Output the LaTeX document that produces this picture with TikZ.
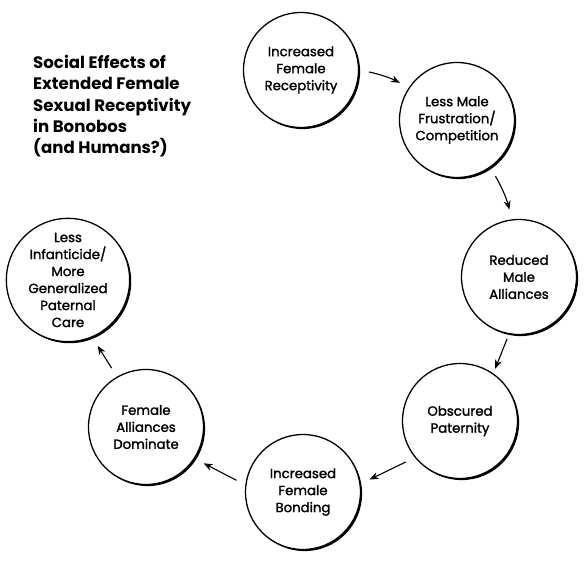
\documentclass[tikz,border=0pt]{standalone}
\usepackage{fontspec}
\setmainfont{Poppins}
\newfontfamily\stagefont{Poppins}[FakeBold=1.6]
\usetikzlibrary{arrows.meta,shadows}

\begin{document}
\begin{tikzpicture}[x=1pt,y=-1pt,
    stage/.style={circle,draw,line width=1.3pt,fill=white,minimum size=115pt,
      inner sep=0pt,align=center,font=\stagefont\fontsize{13.3}{17}\selectfont,
      drop shadow={shadow xshift=1.6pt,shadow yshift=-1.6pt,fill=black,opacity=1}},
    link/.style={-{Stealth[length=9pt,width=7pt]},line width=1.1pt,
      shorten <=10pt,shorten >=10pt}]
  \useasboundingbox (0,0) rectangle (586,564);
  \node[anchor=north west,align=left,inner sep=0pt,font=\bfseries\fontsize{16.6}{21.3}\selectfont]
    (title) at (33,55) {Social Effects of\\Extended Female\\Sexual Receptivity\\in Bonobos\\(and Humans?)};
  \node[stage] (receptivity) at (301,70) {Increased\\Female\\Receptivity};
  \node[stage] (frustration) at (457,120) {Less Male\\Frustration/\\Competition};
  \node[stage] (malealliances) at (519,277) {Reduced\\Male\\Alliances};
  \node[stage] (paternity) at (460,421) {Obscured\\Paternity};
  \node[stage] (bonding) at (303,492) {Increased\\Female\\Bonding};
  \node[stage] (femalealliances) at (146,427) {Female\\Alliances\\Dominate};
  \node[stage] (infanticide) at (68,280) {Less\\Infanticide/\\More\\Generalized\\Paternal\\Care};
  \draw[link] (receptivity.0) to[bend left=8] (frustration.146);
  \draw[link] (frustration.-55) to[bend left=8] (malealliances.97);
  \draw[link,shorten <=5pt,shorten >=5pt] (malealliances.-100) -- (paternity.55);
  \draw[link] (paternity.-141) -- (bonding.8);
  \draw[link] (bonding.173) -- (femalealliances.-33);
  \draw[link] (femalealliances.120) -- (infanticide.-67);
\end{tikzpicture}
\end{document}
